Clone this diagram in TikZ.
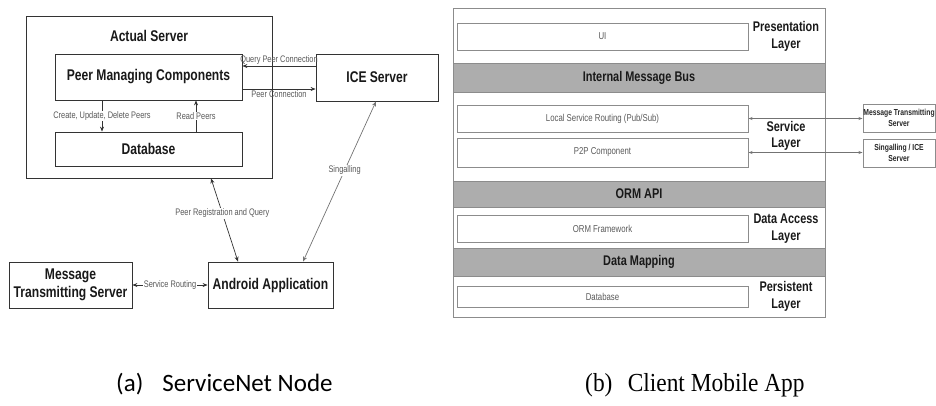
\documentclass[tikz,border=0pt]{standalone}
\usepackage{fontspec}
\usepackage{graphicx}
\setmainfont{Liberation Sans}
\newfontfamily\calib{Carlito}
\newfontfamily\timesf{Liberation Serif}
\usetikzlibrary{arrows.meta}
\newcommand{\nx}[1]{\scalebox{0.78}[1]{#1}}
\begin{document}
\begin{tikzpicture}[x=1pt,y=-1pt,
  lbox/.style={draw=black!80,line width=0.8pt,inner sep=0pt},
  big/.style={font=\fontsize{15.5}{18}\selectfont\bfseries,text=black!90},
  lab/.style={font=\fontsize{9.5}{11}\selectfont,text=black!65,inner sep=1pt},
  arr/.style={draw=black!80,line width=0.7pt,-{Stealth[length=5pt,width=4pt]}},
  darr/.style={draw=black!80,line width=0.7pt,{Stealth[length=5pt,width=4pt]}-{Stealth[length=5pt,width=4pt]}},
  rbox/.style={draw=black!45,line width=1pt,inner sep=0pt},
  band/.style={draw=black!45,fill=black!32,line width=0.8pt,inner sep=0pt,minimum width=372pt},
  rbig/.style={font=\fontsize{14}{16.5}\selectfont\bfseries,text=black!90},
  rsmall/.style={font=\fontsize{10}{12}\selectfont,text=black!65},
  rtiny/.style={font=\fontsize{8.7}{10.5}\selectfont\bfseries,text=black!85},
  rarr/.style={draw=black!55,line width=0.8pt,{Stealth[length=4pt,width=3pt]}-{Stealth[length=4pt,width=3pt]}}
]
\useasboundingbox (0,0) rectangle (936,405);

% ---------- (a) ServiceNet Node ----------
\node[lbox,minimum width=246pt,minimum height=162pt] (actual) at (149,97) {};
\node[big] (actualt) at (149,36) {\nx{Actual Server}};
\node[lbox,big,minimum width=187pt,minimum height=46pt] (pmc) at (148.5,77) {\nx{Peer Managing Components}};
\node[lbox,big,minimum width=187pt,minimum height=34pt] (db) at (148.5,149) {\nx{Database}};
\node[lbox,big,minimum width=122pt,minimum height=47pt] (ice) at (377,77.5) {\nx{ICE Server}};
\node[lbox,big,align=center,minimum width=123pt,minimum height=46pt] (mts) at (70.5,285) {\nx{Message}\\\nx{Transmitting Server}};
\node[lbox,big,minimum width=125pt,minimum height=46pt] (aa) at (270.5,285) {\nx{Android Application}};

\draw[arr] (pmc.south -| 102,0) -- node[lab,fill=white] {\nx{Create, Update, Delete Peers}} (db.north -| 102,0);
\draw[arr] (db.north -| 196,0) -- node[lab,fill=white] {\nx{Read Peers}} (pmc.south -| 196,0);
\draw[arr] (ice.west |- 0,66) -- node[lab,above] {\nx{Query Peer Connection}} (pmc.east |- 0,66);
\draw[arr] (pmc.east |- 0,89) -- node[lab,below] {\nx{Peer Connection}} (ice.west |- 0,89);
\draw[darr] (actual.south -| 211,0) -- node[lab,fill=white,pos=0.42] {\nx{Peer Registration and Query}} (aa.north -| 238,0);
\draw[darr,draw=black!55] (aa.north -| 303,0) -- node[lab,fill=white,pos=0.57] {\nx{Singalling}} (ice.south -| 376,0);
\draw[darr] (mts.east) -- node[lab,fill=white] {\nx{Service Routing}} (aa.west);

% ---------- (b) Client Mobile App ----------
\node[draw=black!45,line width=1pt,inner sep=0pt,minimum width=372pt,minimum height=309pt] (frame) at (639,162.5) {};
\node[band,rbig,minimum height=29pt] (imb) at (639,77.5) {\nx{Internal Message Bus}};
\node[band,rbig,minimum height=26pt] (ormapi) at (639,194) {\nx{ORM API}};
\node[band,rbig,minimum height=28pt] (dmap) at (639,262) {\nx{Data Mapping}};

\node[rbox,rsmall,minimum width=291pt,minimum height=27pt] (ui) at (602.5,36.5) {\nx{UI}};
\node[rbox,rsmall,minimum width=291pt,minimum height=27pt] (lsr) at (602.5,118.5) {\nx{Local Service Routing (Pub/Sub)}};
\node[rbox,rsmall,minimum width=291pt,minimum height=29pt] (p2p) at (602.5,152.5) {\nx{P2P Component}};
\node[rbox,rsmall,minimum width=291pt,minimum height=27pt] (ormf) at (602.5,228.5) {\nx{ORM Framework}};
\node[rbox,rsmall,minimum width=291pt,minimum height=21pt] (rdb) at (602.5,296.5) {\nx{Database}};

\node[rbig,align=center] (pres) at (786,36.5) {\nx{Presentation}\\\nx{Layer}};
\node[rbig,align=center] (serv) at (786,136) {\nx{Service}\\\nx{Layer}};
\node[rbig,align=center] (dal) at (786,228.5) {\nx{Data Access}\\\nx{Layer}};
\node[rbig,align=center] (pers) at (786,296.5) {\nx{Persistent}\\\nx{Layer}};

\node[rbox,rtiny,align=center,minimum width=72pt,minimum height=28pt] (mtsr) at (899,118) {\nx{Message Transmitting}\\\nx{Server}};
\node[rbox,rtiny,align=center,minimum width=72pt,minimum height=28pt] (sice) at (899,153) {\nx{Singalling / ICE}\\\nx{Server}};

\draw[rarr] (lsr.east) -- (mtsr.west |- lsr.east);
\draw[rarr] (p2p.east) -- (sice.west |- p2p.east);

% ---------- captions ----------
\node[anchor=base west,inner sep=0pt,font=\calib\fontsize{25}{28}\selectfont] (capa) at (116,391) {(a)\hspace{19pt}ServiceNet Node};
\node[anchor=base west,inner sep=0pt,font=\timesf\fontsize{26}{29}\selectfont] (capb) at (585,391) {\scalebox{0.9}[1]{(b)\hspace{17pt}Client Mobile App}};
\end{tikzpicture}
\end{document}
